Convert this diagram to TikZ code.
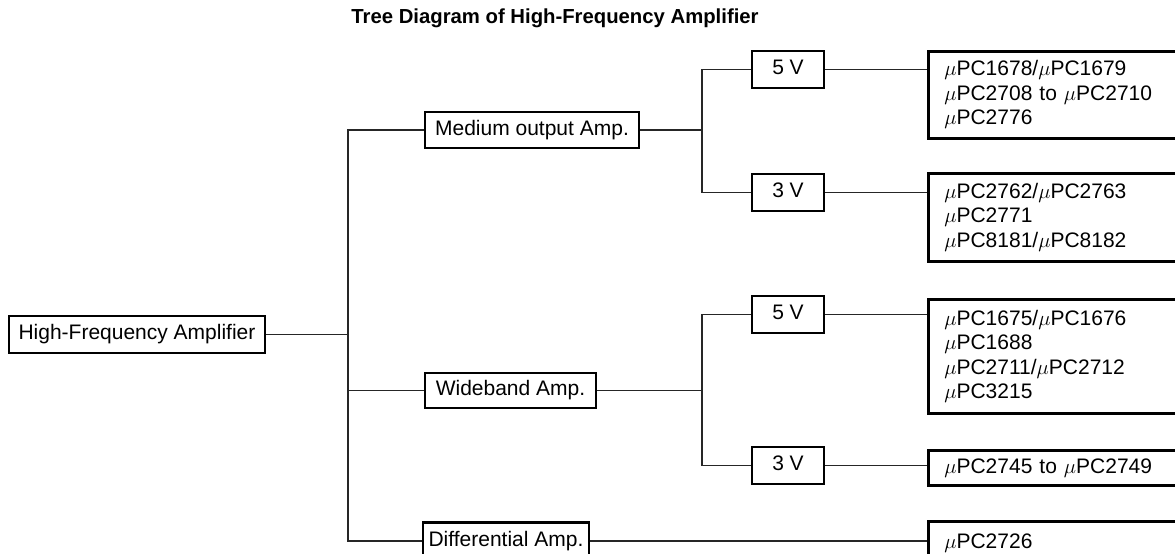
\documentclass[tikz,border=0pt]{standalone}
\usepackage{fontspec}
\setmainfont{Liberation Sans}
\usetikzlibrary{positioning}
\newcommand{\myMu}{$\mu$}
\tikzset{
  box/.style={draw=black, line width=2.7pt, inner sep=0pt, align=center,
    font=\fontsize{21}{24.5}\selectfont, text height=15pt, text depth=4.5pt},
  vbox/.style={box, minimum width=72, minimum height=37},
  resbox/.style={draw=black, line width=2.7pt, anchor=north west, inner xsep=16pt, inner ysep=0pt,
    text width=240pt, align=left, minimum width=272, font=\fontsize{21}{24.5}\selectfont},
  conn/.style={draw=black!85, line width=1.1pt},
}
\begin{document}
\begin{tikzpicture}[x=1pt,y=-1pt]
\useasboundingbox (0,0) rectangle (1175,554);
\clip (0,0) rectangle (1175,554);

\node[font=\fontsize{20.3}{24}\selectfont\bfseries] (title) at (555,18) {Tree Diagram of High-Frequency Amplifier};

\node[box, minimum width=256, minimum height=37] (hfa) at (137,334.5) {High-Frequency Amplifier};
\node[box, minimum width=214, minimum height=36] (med) at (532,130) {Medium output Amp.};
\node[box, minimum width=171, minimum height=35] (wide) at (510.5,390.5) {Wideband Amp.};
\node[box, minimum width=166, minimum height=37] (diff) at (506,541) {Differential Amp.};

\node[vbox] (v5a) at (788,69.5) {5 V};
\node[vbox] (v3a) at (788,192.5) {3 V};
\node[vbox] (v5b) at (788,314.5) {5 V};
\node[vbox] (v3b) at (788,465.5) {3 V};

\node[resbox, minimum height=87] (r1) at (927,50) {\myMu PC1678/\myMu PC1679\\ \myMu PC2708 to \myMu PC2710\\ \myMu PC2776};
\node[resbox, minimum height=88] (r2) at (927,172) {\myMu PC2762/\myMu PC2763\\ \myMu PC2771\\ \myMu PC8181/\myMu PC8182};
\node[resbox, minimum height=114] (r3) at (927,298) {\myMu PC1675/\myMu PC1676\\ \myMu PC1688\\ \myMu PC2711/\myMu PC2712\\ \myMu PC3215};
\node[resbox, minimum height=35] (r4) at (927,449) {\myMu PC2745 to \myMu PC2749};
\node[resbox, minimum height=44] (r5) at (927,520) {\myMu PC2726};

\coordinate (t) at (348,334.5);
\coordinate (ba) at (702,130);
\coordinate (bb) at (702,390.5);

\draw[conn] (hfa.east) -- (t);
\draw[conn] (med.west) -| (t);
\draw[conn] (diff.west) -| (t);
\draw[conn] (wide.west) -- (wide.west -| t);

\draw[conn] (med.east) -- (ba);
\draw[conn] (v5a.west) -| (ba);
\draw[conn] (v3a.west) -| (ba);
\draw[conn] (wide.east) -- (bb);
\draw[conn] (v5b.west) -| (bb);
\draw[conn] (v3b.west) -| (bb);

\draw[conn] (v5a.east) -- (v5a.east -| r1.west);
\draw[conn] (v3a.east) -- (v3a.east -| r2.west);
\draw[conn] (v5b.east) -- (v5b.east -| r3.west);
\draw[conn] (v3b.east) -- (v3b.east -| r4.west);
\draw[conn] (diff.east) -- (diff.east -| r5.west);
\end{tikzpicture}
\end{document}
